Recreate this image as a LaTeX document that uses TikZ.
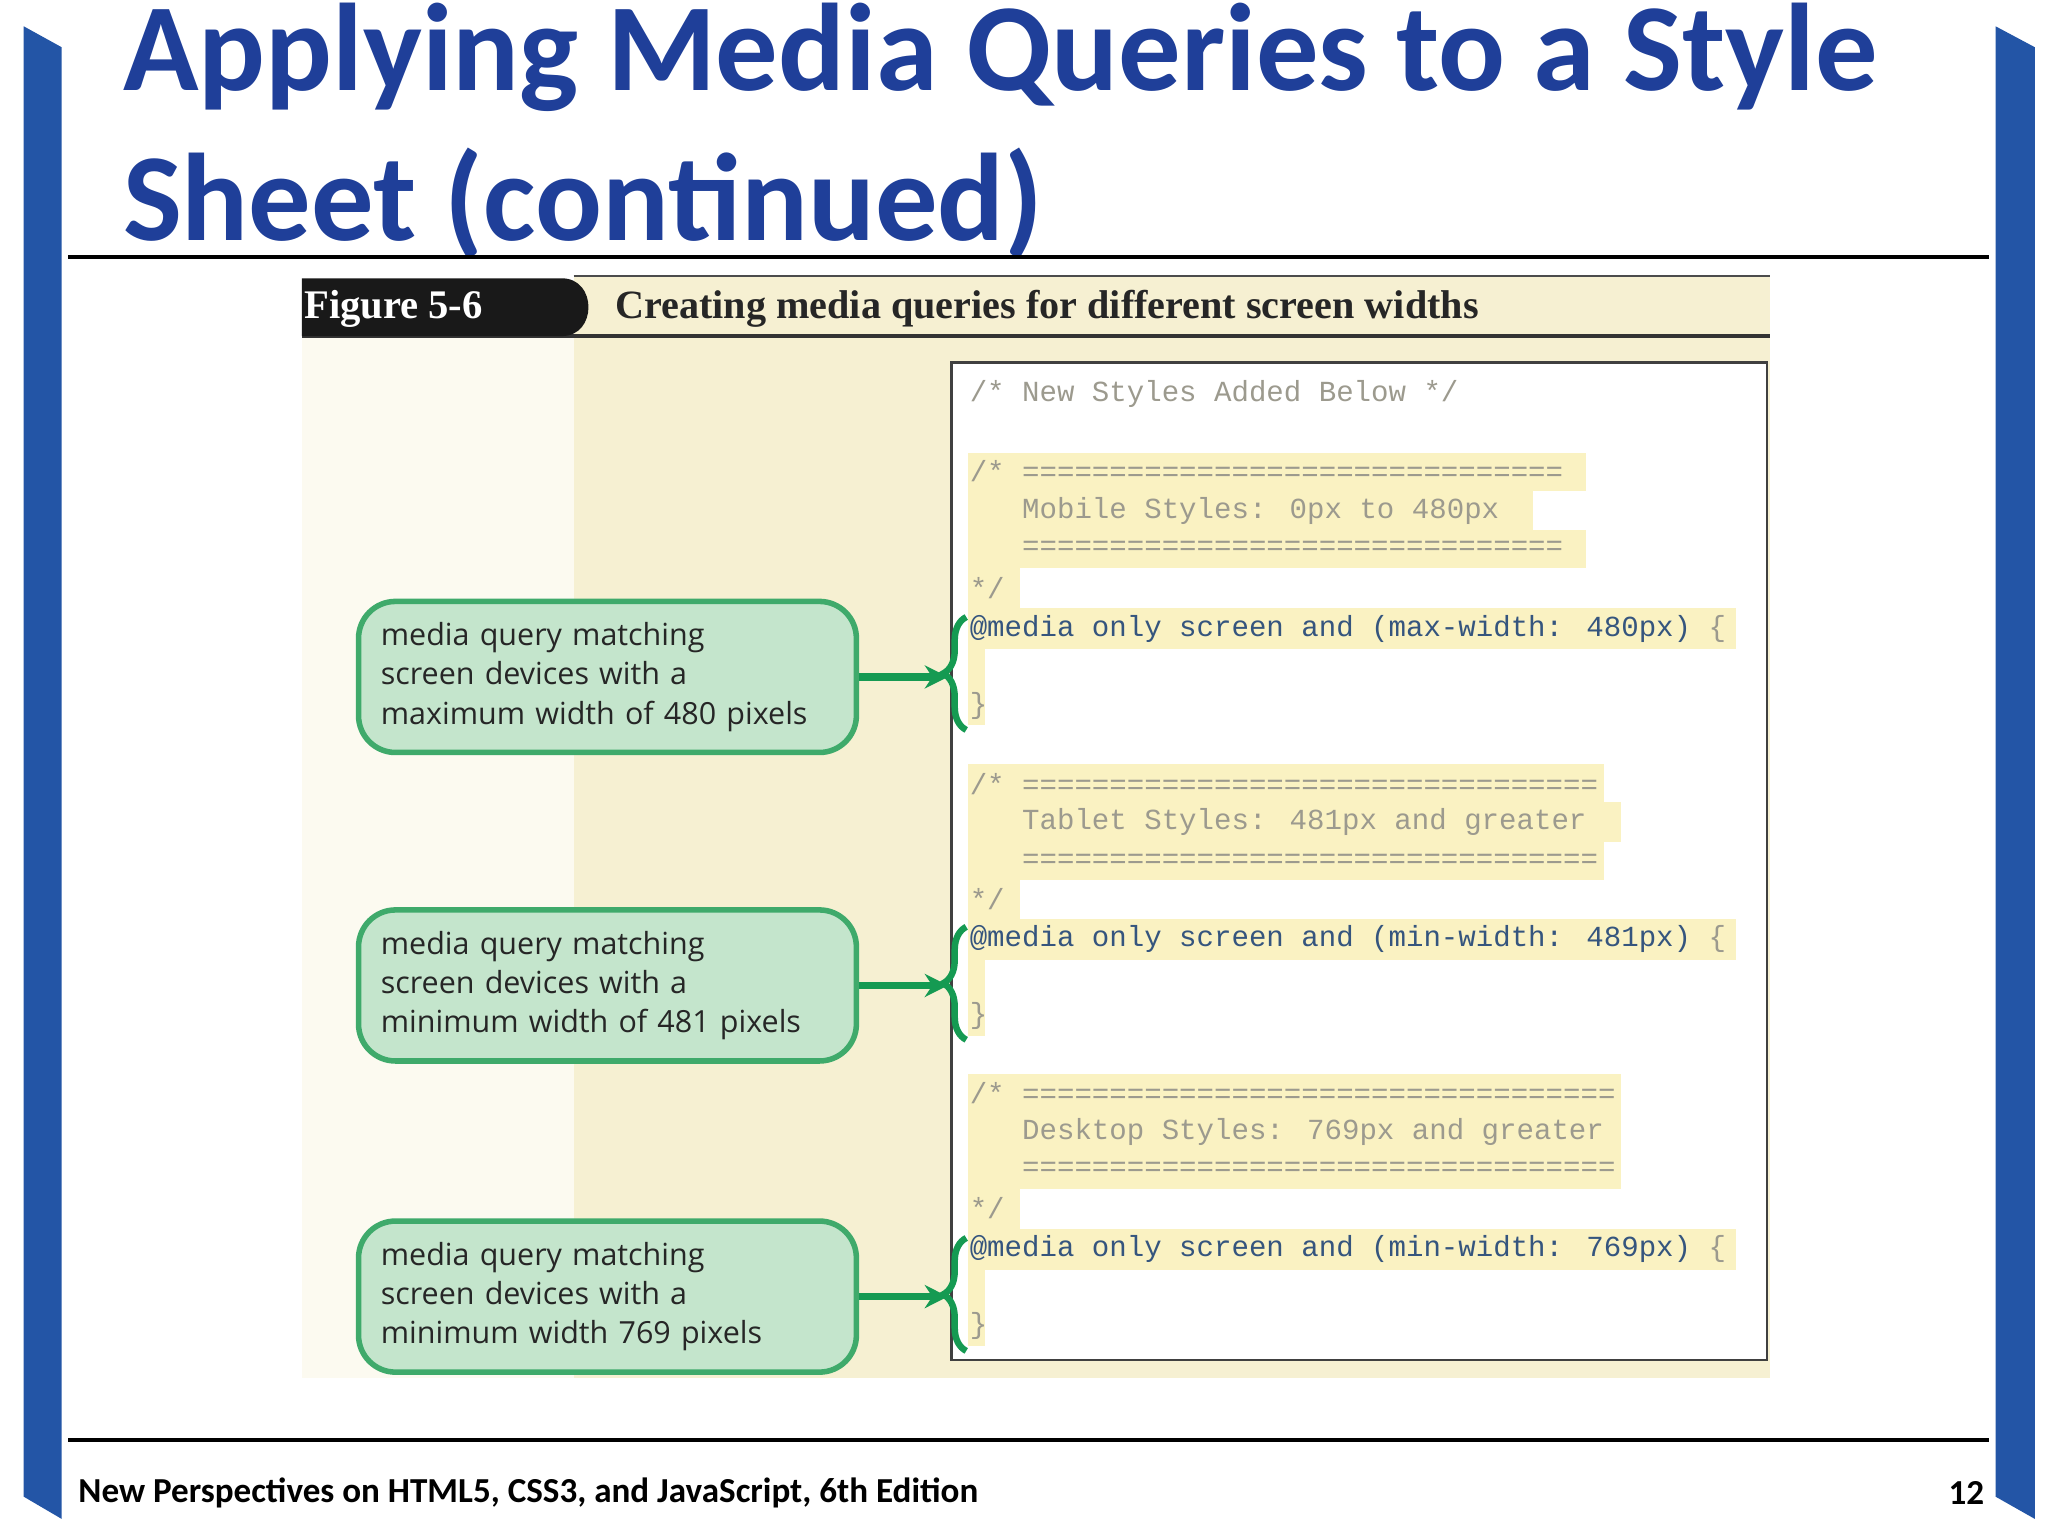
\documentclass[tikz,border=0pt]{standalone}
\usepackage{fontspec}
\setmainfont{Carlito}
\newfontfamily\boxfont{Open Sans}
\newfontfamily\codefont{Liberation Mono}
\newfontfamily\figfont{Liberation Serif}
\definecolor{titleblue}{HTML}{1F3F99}
\definecolor{barblue}{HTML}{2355A6}
\definecolor{figbg}{HTML}{F6F0D2}
\definecolor{figlight}{HTML}{FCFAF0}
\definecolor{hl}{HTML}{FAF2C2}
\definecolor{boxfill}{HTML}{C4E5CC}
\definecolor{boxline}{HTML}{3FAA6B}
\definecolor{arrowgreen}{HTML}{159A52}
\definecolor{cmt}{HTML}{9C9A8E}
\definecolor{codeblue}{HTML}{35557E}
\tikzset{
  callout/.style={draw=boxline, line width=1.2pt, fill=boxfill, rounded corners=8pt, minimum width=3.79cm, minimum height=1.15cm, anchor=north west, align=left, text width=3.45cm, inner xsep=0.17cm, inner ysep=0pt, font=\boxfont\fontsize{6.6pt}{8.5pt}\selectfont, text=black!85},
  code/.style={anchor=west, inner sep=0pt, font=\codefont\fontsize{6.3pt}{7pt}\selectfont},
  arr/.style={-{Stealth[length=5pt,width=5pt]}, draw=arrowgreen, line width=1.6pt},
}
\usetikzlibrary{arrows.meta,decorations.pathreplacing}
\begin{document}
\begin{tikzpicture}[x=0.01cm,y=-0.01cm]
\useasboundingbox (0,0) rectangle (1560,1170);
\fill[white] (0,0) rectangle (1560,1170);
% side bars
\fill[barblue] (18,20) -- (47,36) -- (47,1157) -- (18,1140) -- cycle;
\fill[barblue] (1520,20) -- (1550,36) -- (1550,1157) -- (1520,1140) -- cycle;
% title
\node[anchor=west, inner sep=0pt, align=left, text=titleblue, font=\bfseries\fontsize{27pt}{32.5pt}\selectfont] (title) at (93,100) {Applying Media Queries to a Style\\Sheet (continued)};
\draw[line width=0.8pt] (52,196) -- (1515,196);
\draw[line width=0.8pt] (52,1097) -- (1515,1097);
\node[anchor=west, inner sep=0pt, font=\bfseries\fontsize{7.6pt}{9pt}\selectfont] (foot) at (59,1137) {New Perspectives on HTML5, CSS3, and JavaScript, 6th Edition};
\node[anchor=east, inner sep=0pt, font=\bfseries\fontsize{7.6pt}{9pt}\selectfont] (page) at (1512,1137) {12};
% figure background
\fill[figlight] (230,256) rectangle (437,1050);
\fill[figbg] (437,210) rectangle (1348,1050);
\draw[line width=0.5pt, black!70] (437,210) -- (1348,210);
\draw[line width=0.8pt, black!80] (230,256) -- (1348,256);
\fill[black!90] (230,212) -- (428,212) .. controls (455,212) and (455,256) .. (428,256) -- (230,256) -- cycle;
\node[anchor=west, inner sep=0pt, text=white, font=\figfont\bfseries\fontsize{8.8pt}{9pt}\selectfont] (figlabel) at (231,235) {Figure 5-6};
\node[anchor=west, inner sep=0pt, text=black!85, font=\figfont\bfseries\fontsize{8.7pt}{9pt}\selectfont] (figtitle) at (468,235) {Creating media queries for different screen widths};
% code box
\draw[fill=white, draw=black!75, line width=0.6pt] (725,276) rectangle (1346,1036);
% highlights
\foreach \y/\r/\rm/\rr in {0/1208/1168/1322, 237/1222/1235/1322, 473/1235/1235/1322}{
  \fill[hl] (737,345+\y) rectangle (\r,374+\y);
  \fill[hl] (737,374+\y) rectangle (\rm,404+\y);
  \fill[hl] (737,404+\y) rectangle (\r,433+\y);
  \fill[hl] (737,433+\y) rectangle (777,463+\y);
  \fill[hl] (737,463+\y) rectangle (\rr,494+\y);
  \fill[hl] (737,494+\y) rectangle (750,552+\y);
}
% code text
\node[code, text=cmt] (c0) at (738,300) {/* New Styles Added Below */};
\node[code, text=cmt] (a1) at (738,359) {/* ===============================};
\node[code, text=cmt] (a2) at (738,389) {\ \ \ Mobile Styles: 0px to 480px};
\node[code, text=cmt] (a3) at (738,418) {\ \ \ ===============================};
\node[code, text=cmt] (a4) at (738,448) {*/};
\node[code, text=codeblue] (a5) at (738,479) {@media only screen and (max-width: 480px) \textcolor{cmt}{\{}};
\node[code, text=cmt] (a6) at (738,538) {\}};
\node[code, text=cmt] (b1) at (738,597) {/* =================================};
\node[code, text=cmt] (b2) at (738,626) {\ \ \ Tablet Styles: 481px and greater};
\node[code, text=cmt] (b3) at (738,656) {\ \ \ =================================};
\node[code, text=cmt] (b4) at (738,685) {*/};
\node[code, text=codeblue] (b5) at (738,715) {@media only screen and (min-width: 481px) \textcolor{cmt}{\{}};
\node[code, text=cmt] (b6) at (738,774) {\}};
\node[code, text=cmt] (d1) at (738,833) {/* ==================================};
\node[code, text=cmt] (d2) at (738,862) {\ \ \ Desktop Styles: 769px and greater};
\node[code, text=cmt] (d3) at (738,891) {\ \ \ ==================================};
\node[code, text=cmt] (d4) at (738,920) {*/};
\node[code, text=codeblue] (d5) at (738,951) {@media only screen and (min-width: 769px) \textcolor{cmt}{\{}};
\node[code, text=cmt] (d6) at (738,1010) {\}};
% braces
\foreach \y/\n in {513/ba, 749/bb, 986/bc}{
  \coordinate (\n) at (722,\y);
  \draw[arrowgreen, line width=1.4pt, decorate, decoration={brace, amplitude=5pt, mirror}] (736,\y-43) -- (736,\y+43);
}
% callouts
\node[callout] (m1) at (271,456) {media query matching\\screen devices with a\\maximum width of 480 pixels};
\node[callout] (m2) at (271,691) {media query matching\\screen devices with a\\minimum width of 481 pixels};
\node[callout] (m3) at (271,928) {media query matching\\screen devices with a\\minimum width 769 pixels};
\draw[arr] (m1.east) -- (m1.east -| ba);
\draw[arr] (m2.east) -- (m2.east -| bb);
\draw[arr] (m3.east) -- (m3.east -| bc);
\end{tikzpicture}
\end{document}
